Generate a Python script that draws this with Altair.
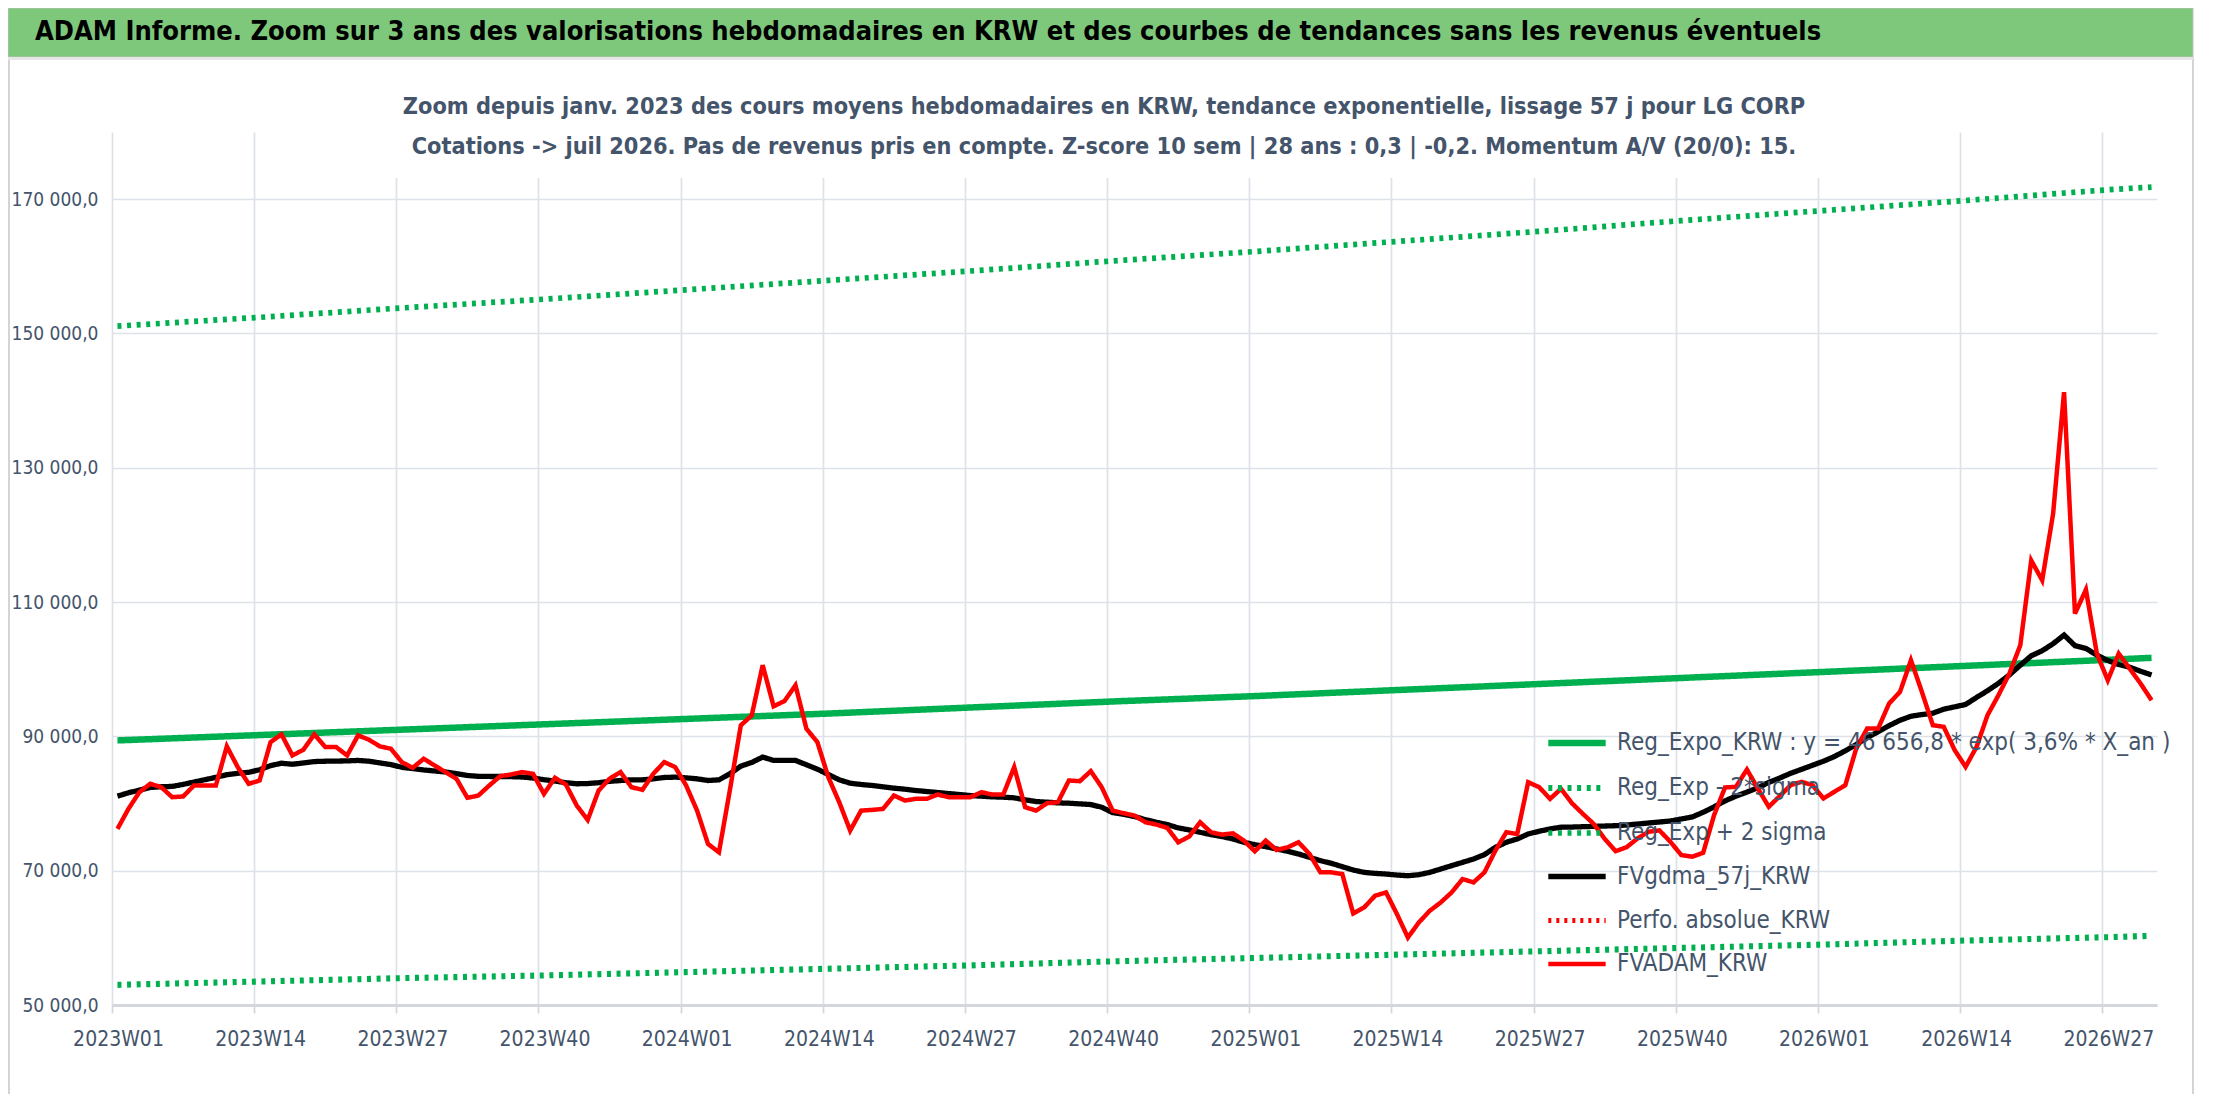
import altair as alt
import pandas as pd

FONT = "DejaVu Sans Condensed, DejaVu Sans, sans-serif"
SLATE = "#44546A"

# ---------------- data ----------------
tick_labels = ["2023W01", "2023W14", "2023W27", "2023W40", "2024W01", "2024W14", "2024W27",
               "2024W40", "2025W01", "2025W14", "2025W27", "2025W40", "2026W01", "2026W14", "2026W27"]
tick_weeks = [0, 13, 26, 39, 52, 65, 78, 91, 104, 117, 130, 143, 156, 169, 182]
n_weeks = 187
y_ticks = [50000, 70000, 90000, 110000, 130000, 150000, 170000]

fvadam = [
    76220, 79200, 81690, 82940, 82440, 80950, 81050, 82690, 82690, 82690,
    88510, 85420, 82940, 83430, 89150, 90300, 87160, 88010, 90300, 88410,
    88410, 87160, 90150, 89500, 88510, 88160, 86170, 85320, 86670, 85670,
    84680, 83680, 80850, 81190, 82690, 84080, 84330, 84680, 84430, 81440,
    83830, 82840, 79700, 77560, 81940, 83700, 84680, 82440, 82040, 84430,
    86170, 85420, 82690, 78950, 73980, 72740, 82000, 91640, 93130, 100600,
    94480, 95270, 97610, 91140, 89150, 83930, 80200, 75970, 78950, 79050,
    79200, 81190, 80450, 80700, 80700, 81340, 80950, 80950, 80950, 81690,
    81340, 81340, 85420, 79450, 78950, 80050, 80200, 83430, 83330, 84830,
    82440, 78950, 78560, 78210, 77210, 76870, 76370, 74230, 75080, 77210,
    75720, 75370, 75570, 74480, 72890, 74480, 73090, 73480, 74230, 72490,
    69750, 69750, 69500, 63630, 64530, 66270, 66770, 63530, 60050, 62290,
    64030, 65270, 66770, 68760, 68260, 69750, 72990, 75720, 75470, 83180,
    82440, 80700, 82190, 80050, 78460, 76960, 74730, 72900, 73500, 74800,
    75800, 76000, 74310, 72330, 72080, 72670, 78280, 82390, 82490, 85070,
    82240, 79520, 81100, 82740, 83240, 82740, 80760, 81750, 82740, 88200,
    91170, 91170, 94890, 96630, 101340, 96630, 91670, 91420, 87950, 85470,
    88440, 93150, 96130, 99350, 103570, 116210, 113240, 123160, 141260, 108280,
    111850, 102330, 98360, 102330, 100100, 97870, 95390,
]

fvgdma = [
    81100, 81600, 82000, 82400, 82500, 82550, 82850, 83200, 83550, 83900,
    84300, 84500, 84650, 85030, 85650, 86000, 85850, 86050, 86250, 86300,
    86320, 86350, 86420, 86300, 86050, 85800, 85400, 85200, 85000, 84850,
    84700, 84450, 84180, 84050, 84030, 84030, 84000, 83950, 83800, 83550,
    83350, 83100, 82940, 82980, 83100, 83300, 83430, 83530, 83530, 83680,
    83880, 83930, 83830, 83680, 83430, 83530, 84430, 85570, 86120, 86920,
    86420, 86420, 86420, 85770, 85120, 84330, 83530, 83030, 82840, 82690,
    82490, 82290, 82140, 81940, 81790, 81640, 81490, 81340, 81190, 81090,
    80990, 80950, 80850, 80550, 80300, 80200, 80100, 80050, 79950, 79850,
    79450, 78650, 78400, 78060, 77600, 77210, 76870, 76370, 76070, 75720,
    75370, 75080, 74730, 74230, 73880, 73580, 73230, 72890, 72490, 71990,
    71490, 71100, 70600, 70100, 69750, 69600, 69500, 69350, 69250, 69400,
    69750, 70250, 70750, 71240, 71740, 72390, 73480, 74230, 74730, 75470,
    75870, 76220, 76470, 76500, 76550, 76600, 76650, 76700, 76800, 76950,
    77100, 77250, 77400, 77700, 78000, 78700, 79500, 80400, 81100, 81700,
    82350, 83150, 83800, 84500, 85100, 85700, 86300, 87000, 87850, 88800,
    89800, 90700, 91600, 92400, 93000, 93250, 93450, 94050, 94400, 94750,
    95800, 96800, 97900, 99150, 100600, 102000, 102750, 103800, 105100, 103500,
    103100, 102100, 101300, 100700, 100300, 99700, 99150,
]

trend_weeks = [0, 13, 26, 39, 52, 65, 78, 91, 104, 117, 130, 143, 156, 169, 182, 186]
reg_expo = [89400, 90200, 91000, 91800, 92600, 93400, 94300, 95200, 96000, 96900,
            97800, 98700, 99600, 100500, 101400, 101700]
reg_plus = [151100, 152400, 153800, 155100, 156500, 157900, 159300, 160800, 162200, 163700,
            165200, 166800, 168300, 169800, 171400, 171800]
reg_minus = [53000, 53500, 54000, 54400, 54900, 55400, 55900, 56500, 57000, 57500,
             58000, 58500, 59000, 59600, 60100, 60300]

S_REG = "Reg_Expo_KRW : y = 46 656,8 * exp( 3,6% *  X_an )"
S_MINUS = "Reg_Exp - 2*sigma"
S_PLUS = "Reg_Exp + 2 sigma"
S_GDMA = "FVgdma_57j_KRW"
S_PERF = "Perfo. absolue_KRW"
S_ADAM = "FVADAM_KRW"
series_names = [S_REG, S_MINUS, S_PLUS, S_GDMA, S_PERF, S_ADAM]
series_colors = ["#00B050", "#00B050", "#00B050", "#000000", "#FF0000", "#FF0000"]
series_dash = [[1, 0], [4, 5.6], [4, 5.6], [1, 0], [3, 5], [1, 0]]
series_width = [6.5, 4.5, 4.5, 4.5, 3, 5.5]

title_text = ("ADAM Informe. Zoom sur 3 ans des valorisations hebdomadaires en KRW "
              "et des courbes de tendances sans les revenus éventuels")
sub1 = ("Zoom depuis janv. 2023 des cours moyens hebdomadaires en KRW, tendance exponentielle, "
        "lissage 57 j pour LG CORP")
sub2 = ("Cotations -> juil 2026. Pas de revenus pris en compte. Z-score 10 sem | 28 ans : 0,3 | -0,2. "
        "Momentum A/V (20/0): 15.")

# ---------------- frames ----------------
def weekly(vals, name):
    return pd.DataFrame({"x": [i + 0.5 for i in range(len(vals))], "v": vals, "s": name})

def trend(vals, name):
    return pd.DataFrame({"x": [w + 0.5 for w in trend_weeks], "v": vals, "s": name})

W, H = 2045, 873
PL, PT = 104, 124

label_arr = "[" + ",".join("'%s'" % t for t in tick_labels) + "]"

x_enc = alt.X("x:Q", scale=alt.Scale(domain=[0, n_weeks], nice=False, zero=False),
              axis=alt.Axis(values=tick_weeks, labelExpr=label_arr + "[round(datum.value/13)]",
                            title=None, grid=True, gridColor="#DDE1E8", gridWidth=1.7,
                            domain=True, domainColor="#D3D6DC", domainWidth=3,
                            ticks=True, tickSize=8, tickColor="#D3D6DC", tickWidth=1.7,
                            labelFont=FONT, labelFontSize=21, labelColor=SLATE,
                            labelPadding=15, labelOffset=6, labelFlush=False,
                            labelOverlap=False))
y_enc = alt.Y("v:Q", scale=alt.Scale(domain=[50000, 180000], nice=False, zero=False),
              axis=alt.Axis(values=y_ticks, title=None, grid=True, gridColor="#DDE1E8",
                            gridWidth=1.7, domain=False, ticks=False,
                            labelExpr="replace(replace(format(datum.value, ',.1f'), ',', ' '), '.', ',')",
                            labelFont=FONT, labelFontSize=19, labelColor=SLATE,
                            labelPadding=14))

leg = alt.Legend(title=None, orient="none", legendX=1433, legendY=579, padding=0,
                 symbolType="stroke", symbolSize=3290, labelFont=FONT, labelFontSize=24,
                 labelColor=SLATE, rowPadding=0, labelOffset=8, labelLimit=1500)

def line_layer(df):
    return alt.Chart(df).mark_line(clip=False).encode(
        x=x_enc, y=y_enc,
        color=alt.Color("s:N", scale=alt.Scale(domain=series_names, range=series_colors), legend=leg),
        strokeDash=alt.StrokeDash("s:N", scale=alt.Scale(domain=series_names, range=series_dash), legend=leg),
        strokeWidth=alt.StrokeWidth("s:N", scale=alt.Scale(domain=series_names, range=series_width), legend=leg),
    )

one = pd.DataFrame({"k": [0]})

border = alt.Chart(one).mark_rect(fillOpacity=0, stroke="#D4D4D4", strokeWidth=2).encode(
    x=alt.value(-103), x2=alt.value(2081), y=alt.value(-74), y2=alt.value(965))
bar = alt.Chart(one).mark_rect(fill="#7EC87C", stroke="#B8C4B8", strokeWidth=1).encode(
    x=alt.value(-104), x2=alt.value(2081), y=alt.value(-124), y2=alt.value(-75))
bar_line = alt.Chart(one).mark_rect(fill="#E6E6E6").encode(
    x=alt.value(-104), x2=alt.value(2081), y=alt.value(-75), y2=alt.value(-72))
sub_bg = alt.Chart(one).mark_rect(fill="white").encode(
    x=alt.value(208), x2=alt.value(1778), y=alt.value(-70), y2=alt.value(46))
title_mark = alt.Chart(one).mark_text(text=title_text, align="left", baseline="middle", font=FONT,
                                      fontSize=27, fontWeight="bold", color="#000000").encode(
    x=alt.value(-77), y=alt.value(-100))
sub1_mark = alt.Chart(one).mark_text(text=sub1, align="center", baseline="middle", font=FONT,
                                     fontSize=23.3, fontWeight="bold", color=SLATE).encode(
    x=alt.value(992), y=alt.value(-25))
sub2_mark = alt.Chart(one).mark_text(text=sub2, align="center", baseline="middle", font=FONT,
                                     fontSize=23.3, fontWeight="bold", color=SLATE).encode(
    x=alt.value(992), y=alt.value(15))

chart = alt.layer(
    border, bar, bar_line, sub_bg,
    line_layer(trend(reg_expo, S_REG)),
    line_layer(trend(reg_minus, S_MINUS)),
    line_layer(trend(reg_plus, S_PLUS)),
    line_layer(weekly(fvgdma, S_GDMA)),
    line_layer(weekly(fvadam, S_ADAM)),
    title_mark, sub1_mark, sub2_mark,
).properties(
    width=W, height=H,
    autosize=alt.AutoSizeParams(type="none"),
    padding={"left": PL, "top": PT, "right": 2200 - PL - W, "bottom": 1086 - PT - H},
    background="white",
).configure_view(strokeWidth=0)

chart.save("out.html", embed_options={"renderer": "svg", "actions": False})
